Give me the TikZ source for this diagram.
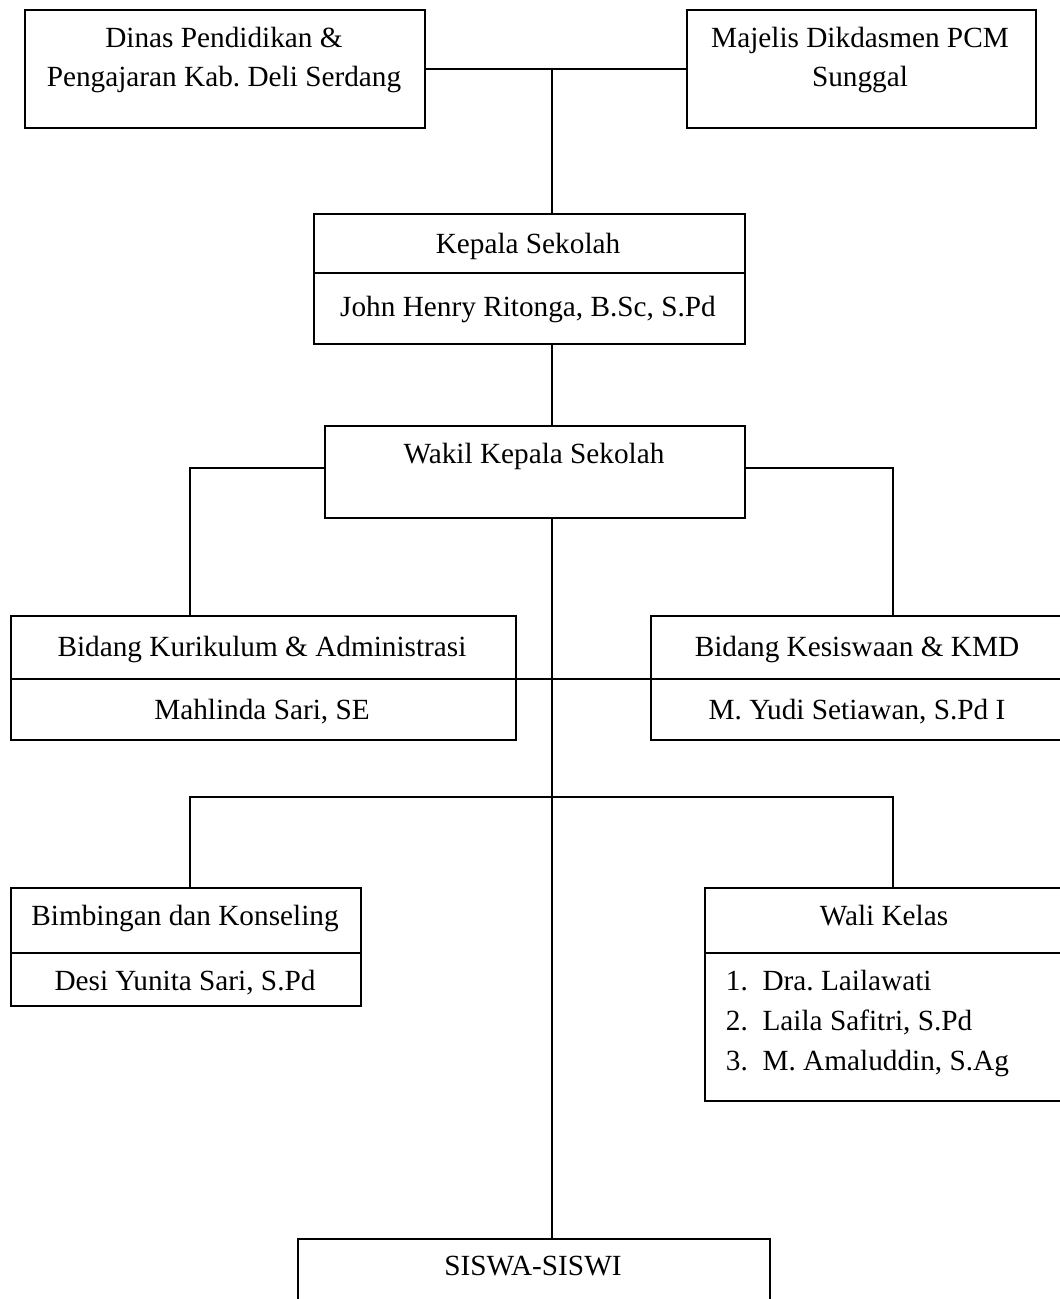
\documentclass[tikz,border=0pt]{standalone}
\usepackage{fontspec}
\setmainfont{Liberation Serif}
\usepackage{tikz}
\usetikzlibrary{calc}
\frenchspacing

\tikzset{
  kotak/.style={draw, line width=0.8pt, inner sep=0pt, anchor=north west},
  tulisan/.style={font=\fontsize{12}{14.8}\selectfont, inner sep=0pt, anchor=base},
  duabaris/.style={font=\fontsize{12}{16.3}\selectfont, inner sep=0pt, anchor=center, align=center},
}

\begin{document}
\begin{tikzpicture}[x=0.41pt, y=-0.41pt, line width=0.8pt]

  \newcommand\U{0.41pt}
  \useasboundingbox (0,0) rectangle (1059,1299);

  %% kotak
  \node[kotak, minimum width=400*\U, minimum height=118*\U] (dinas) at (24,9) {};
  \node[kotak, minimum width=349*\U, minimum height=118*\U] (majelis) at (686,9) {};
  \node[kotak, minimum width=431*\U, minimum height=130*\U] (kepala) at (313,213) {};
  \node[kotak, minimum width=420*\U, minimum height=92*\U] (wakil) at (324,425) {};
  \node[kotak, minimum width=505*\U, minimum height=124*\U] (kurikulum) at (10,615) {};
  \node[kotak, minimum width=414*\U, minimum height=124*\U] (kesiswaan) at (650,615) {};
  \node[kotak, minimum width=350*\U, minimum height=118*\U] (bk) at (10,887) {};
  \node[kotak, minimum width=361*\U, minimum height=213*\U] (walikelas) at (704,887) {};
  \node[kotak, minimum width=472*\U, minimum height=90*\U] (siswa) at (297,1238) {};

  %% garis pembagi
  \draw (kepala.west |- 0,273) -- (kepala.east |- 0,273);
  \draw (kurikulum.west |- 0,679) -- (kesiswaan.east |- 0,679);
  \draw (bk.west |- 0,953) -- (bk.east |- 0,953);
  \draw (walikelas.west |- 0,953) -- (walikelas.east |- 0,953);

  %% tulisan
  \node[duabaris] (tdinas) at (224,60)
    {Dinas Pendidikan \&\\Pengajaran Kab. Deli Serdang};
  \node[duabaris] (tmajelis) at (860,60)
    {Majelis Dikdasmen PCM\\Sunggal};
  \node[tulisan] (tkepala) at (528,254) {Kepala Sekolah};
  \node[tulisan] (nkepala) at (528,317) {John Henry Ritonga, B.Sc, S.Pd};
  \node[tulisan] (twakil) at (534,464) {Wakil Kepala Sekolah};
  \node[tulisan] (tkurikulum) at (262,656) {Bidang Kurikulum \& Administrasi};
  \node[tulisan] (nkurikulum) at (262,719) {Mahlinda Sari, SE};
  \node[tulisan] (tkesiswaan) at (857,656) {Bidang Kesiswaan \& KMD};
  \node[tulisan] (nkesiswaan) at (857,719) {M. Yudi Setiawan, S.Pd I};
  \node[tulisan] (tbk) at (185,925) {Bimbingan dan Konseling};
  \node[tulisan] (nbk) at (185,990) {Desi Yunita Sari, S.Pd};
  \node[tulisan] (twali) at (884,925) {Wali Kelas};
  \node[tulisan, anchor=base west] (wali1) at (725,990) {\makebox[15pt][l]{1.}Dra. Lailawati};
  \node[tulisan, anchor=base west] (wali2) at (725,1030) {\makebox[15pt][l]{2.}Laila Safitri, S.Pd};
  \node[tulisan, anchor=base west] (wali3) at (725,1070) {\makebox[15pt][l]{3.}M. Amaluddin, S.Ag};
  \node[tulisan] (tsiswa) at (533,1275) {SISWA-SISWI};

  %% garis penghubung
  \coordinate (spine) at (552,0);
  \coordinate (kiri) at (190,0);
  \coordinate (kanan) at (893,0);
  \coordinate (simpang) at (552,797);
  \coordinate (sisiwakil) at ($(wakil.north west)!.46!(wakil.south west)$);

  \draw (dinas.east) -- (majelis.west);
  \draw (spine |- dinas.east) -- (spine |- kepala.north);
  \draw (spine |- kepala.south) -- (spine |- wakil.north);
  \draw (spine |- wakil.south) -- (spine |- siswa.north);
  \draw (sisiwakil) -| (kiri |- kurikulum.north);
  \draw (wakil.east |- sisiwakil) -| (kanan |- kesiswaan.north);
  \draw (kiri |- bk.north) |- (kanan |- simpang) -- (kanan |- walikelas.north);

\end{tikzpicture}
\end{document}
